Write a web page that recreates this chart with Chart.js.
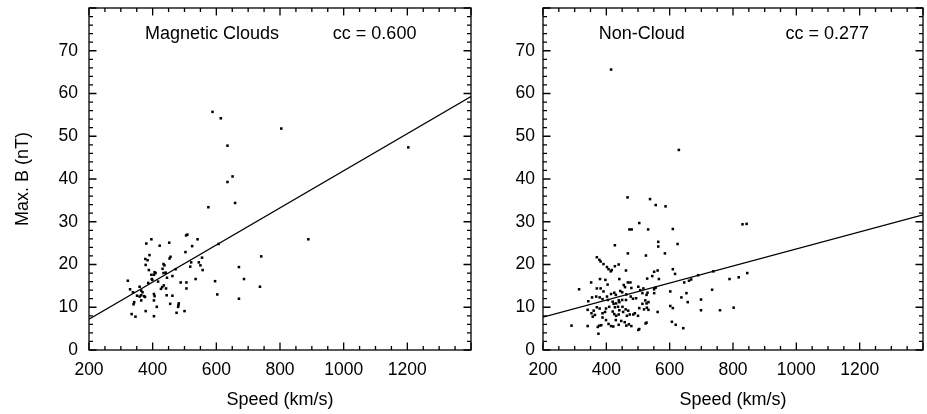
<!DOCTYPE html>
<html>
<head>
<meta charset="utf-8">
<script src="https://cdn.jsdelivr.net/npm/chart.js@4"></script>
<style>
  body { margin: 0; background: #fff; }
  #wrap { position: relative; width: 927px; height: 414px; }
  canvas { position: absolute; top: 0; }
</style>
</head>
<body>
<div id="wrap">
  <canvas id="mcChart" width="480" height="414" style="left:0"></canvas>
  <canvas id="ncChart" width="447" height="414" style="left:480px"></canvas>
</div>
<script>
// Magnetic clouds: shock speed (km/s) vs max B (nT)
const mcSpeed = [588, 614, 804, 1203, 635, 651, 635, 659, 575, 889, 607, 741, 671, 687, 737, 671, 596, 603,
  396, 380, 422, 452, 505, 509, 541, 524, 503, 390, 377, 384, 378, 456, 453, 521, 518, 555, 545, 550, 557,
  434, 437, 431, 388, 396, 406, 409, 404, 434, 441, 472, 462, 445, 322, 397, 399, 386, 417, 430, 435, 442,
  488, 506, 535, 329, 338, 359, 364, 368, 351, 359, 364, 373, 376, 404, 406, 426, 444, 462, 506, 342, 340,
  364, 404, 413, 455, 482, 481, 480, 500, 475, 378, 334, 346, 404];
const mcMaxB = [55.7, 54.2, 51.8, 47.4, 47.8, 40.6, 39.3, 34.4, 33.4, 25.9, 24.8, 21.9, 19.4, 16.6, 14.8, 12.0, 16.1, 13.0,
  25.9, 24.9, 24.4, 25.1, 26.8, 27.0, 25.9, 24.3, 22.9, 22.2, 21.3, 21.0, 19.9, 21.8, 21.4, 20.5, 19.5, 21.6, 20.5, 19.8, 18.7,
  20.1, 19.8, 19.0, 18.7, 17.6, 18.2, 18.0, 17.6, 18.0, 18.1, 18.9, 17.3, 16.9, 16.2, 16.6, 16.4, 15.7, 16.0, 14.7, 15.1, 14.4,
  15.8, 15.8, 16.6, 14.2, 13.5, 14.8, 13.9, 13.5, 12.7, 12.5, 12.8, 12.6, 12.4, 13.1, 12.6, 14.3, 12.8, 12.7, 14.4, 11.2, 10.7,
  11.6, 11.6, 10.1, 10.8, 10.9, 10.5, 10.1, 9.1, 8.7, 9.1, 8.4, 7.8, 7.9];

// Non-cloud events
const ncSpeed = [415, 629, 467, 538, 556, 587, 504, 473, 480, 532, 610, 830, 843, 427, 564, 564, 625, 468, 525, 585,
  690, 734, 699, 699, 759, 802, 789, 818, 845, 738, 668, 661, 646, 637, 653, 657, 643, 619, 607, 610, 602, 602, 610, 617,
  370, 378, 382, 391, 402, 407, 417, 414, 427, 439, 462, 352, 314, 380, 397, 404, 382, 370, 391, 368, 355, 343, 379, 388,
  402, 405, 415, 441, 455, 459, 468, 476, 479, 450, 444, 425, 430, 439, 420, 423, 431, 441, 450, 462, 463, 477, 484, 494,
  501, 507, 517, 514, 530, 527, 551, 556, 533, 527, 523, 514, 504, 519, 528, 533, 500, 485, 490, 461, 469, 474, 465, 451,
  453, 437, 441, 427, 420, 425, 431, 439, 409, 399, 396, 388, 379, 370, 360, 353, 364, 357, 341, 341, 290, 373, 378, 384,
  388, 399, 407, 415, 422, 430, 439, 447, 458, 463, 471, 479, 501, 504, 524, 527, 375, 562, 529, 551, 562, 545, 566, 551];
const ncMaxB = [65.6, 46.8, 35.7, 35.3, 33.9, 33.6, 29.7, 28.2, 28.2, 28.2, 28.3, 29.4, 29.5, 24.5, 25.3, 24.2, 24.8, 22.6, 22.1, 22.6,
  17.5, 14.1, 11.8, 9.3, 9.3, 9.9, 16.6, 17.0, 18.0, 18.4, 16.5, 16.2, 15.8, 12.3, 13.3, 11.2, 5.1, 5.9, 6.6, 9.8, 10.3, 13.7, 18.9, 17.8,
  21.7, 21.1, 20.7, 20.1, 19.4, 18.9, 18.7, 18.4, 19.6, 20.0, 18.6, 15.8, 14.2, 16.6, 16.4, 15.3, 14.4, 14.4, 13.7, 12.5, 12.3, 11.4, 12.3, 11.9,
  12.5, 11.7, 13.1, 16.6, 15.2, 14.7, 15.8, 15.8, 14.5, 13.5, 13.8, 13.4, 12.9, 11.6, 11.3, 10.8, 10.9, 11.2, 11.7, 11.7, 13.0, 12.5, 12.0, 12.1,
  14.8, 14.0, 14.4, 13.3, 13.4, 12.9, 14.2, 14.6, 11.2, 10.9, 11.6, 10.8, 9.8, 9.5, 9.9, 9.4, 8.0, 8.3, 8.6, 9.5, 9.2, 8.3, 8.0, 10.1,
  8.9, 10.1, 9.3, 10.0, 9.0, 8.4, 8.0, 8.3, 10.1, 9.7, 8.9, 8.6, 9.7, 10.0, 9.2, 8.6, 8.2, 7.8, 9.4, 5.6, 5.7, 5.4, 5.7, 5.8,
  7.6, 7.0, 6.1, 5.6, 5.5, 7.0, 5.9, 6.8, 6.5, 5.7, 6.0, 5.6, 4.7, 4.9, 6.2, 6.4, 3.8, 8.9, 16.7, 18.3, 18.6, 17.3, 16.6, 13.3];

// regression lines, read at the ends of the speed axis
const fitSpeed = [200, 1400];
const mcFitB = [7.2, 59.3];
const ncFitB = [7.7, 31.6];

const speedTicks = [200, 400, 600, 800, 1000, 1200];
const bTicks = [0, 10, 20, 30, 40, 50, 60, 70];

Chart.defaults.font.family = '"Liberation Sans", Arial, Helvetica, sans-serif';
Chart.defaults.color = '#000';
Chart.defaults.animation = false;

// IDL style frame: closed box with inward major/minor ticks on every side, plus panel labels
const idlFrame = {
    id: 'idlFrame',
    afterDraw(chart, args, opts) {
        const ctx = chart.ctx;
        const a = chart.chartArea;
        const x = chart.scales.x, y = chart.scales.y;
        ctx.save();
        ctx.strokeStyle = '#000';
        ctx.lineWidth = 1.3;
        ctx.strokeRect(a.left, a.top, a.right - a.left, a.bottom - a.top);
        ctx.beginPath();
        for (let v = x.min; v <= x.max; v += 50) {
            const px = x.getPixelForValue(v);
            const len = v % 200 === 0 ? 7.5 : 4;
            ctx.moveTo(px, a.bottom); ctx.lineTo(px, a.bottom - len);
            ctx.moveTo(px, a.top); ctx.lineTo(px, a.top + len);
        }
        for (let v = y.min; v <= y.max; v += 2) {
            const py = y.getPixelForValue(v);
            const len = v % 10 === 0 ? 7.5 : 4;
            ctx.moveTo(a.left, py); ctx.lineTo(a.left + len, py);
            ctx.moveTo(a.right, py); ctx.lineTo(a.right - len, py);
        }
        ctx.stroke();

        ctx.fillStyle = '#000';
        ctx.font = '18px "Liberation Sans", Arial, sans-serif';
        ctx.textBaseline = 'alphabetic';
        ctx.textAlign = 'left';
        const ty = y.getPixelForValue(72.8);
        ctx.fillText(opts.label, x.getPixelForValue(376), ty);
        ctx.fillText(opts.cc, x.getPixelForValue(966), ty);
        ctx.restore();
    }
};

function makePanel(canvasId, speeds, fields, fitB, label, cc, opts) {
    const ctx = document.getElementById(canvasId).getContext('2d');
    const points = speeds.map((s, i) => ({x: s, y: fields[i]}));
    const fit = fitSpeed.map((s, i) => ({x: s, y: fitB[i]}));

    return new Chart(ctx, {
        type: 'scatter',
        data: {
            datasets: [{
                data: points,
                pointStyle: 'rect',
                pointRadius: 1.8,
                pointBorderWidth: 0,
                backgroundColor: '#000',
                borderColor: '#000'
            }, {
                data: fit,
                showLine: true,
                pointRadius: 0,
                borderColor: '#000',
                borderWidth: 1.3
            }]
        },
        options: {
            responsive: false,
            layout: { padding: { top: 8, right: opts.padRight, bottom: 0, left: 0 } },
            plugins: {
                legend: { display: false },
                tooltip: { enabled: false },
                idlFrame: { label: label, cc: cc }
            },
            scales: {
                x: {
                    type: 'linear',
                    min: 200,
                    max: 1400,
                    afterBuildTicks: s => { s.ticks = speedTicks.map(v => ({value: v})); },
                    afterFit: s => { s.height = 64; s.paddingLeft = 0; s.paddingRight = 0; },
                    grid: { display: false, drawTicks: false },
                    border: { display: false },
                    ticks: { font: { size: 17.5 }, padding: 10, maxRotation: 0, callback: v => String(v) },
                    title: {
                        display: true,
                        text: 'Speed (km/s)',
                        font: { size: 18 },
                        padding: { top: 0, bottom: 3 }
                    }
                },
                y: {
                    min: 0,
                    max: 80,
                    afterBuildTicks: s => { s.ticks = bTicks.map(v => ({value: v})); },
                    afterFit: s => { s.width = opts.yWidth; s.paddingTop = 0; s.paddingBottom = 0; },
                    grid: { display: false, drawTicks: false },
                    border: { display: false },
                    ticks: { font: { size: 17.5 }, padding: opts.yPad, callback: v => String(v) },
                    title: {
                        display: opts.yTitle,
                        text: 'Max. B (nT)',
                        font: { size: 18 },
                        padding: { top: 12, bottom: 0 }
                    }
                }
            }
        },
        plugins: [idlFrame]
    });
}

makePanel('mcChart', mcSpeed, mcMaxB, mcFitB, 'Magnetic Clouds', 'cc = 0.600',
    { padRight: 9, yWidth: 89, yPad: 11, yTitle: true });
makePanel('ncChart', ncSpeed, ncMaxB, ncFitB, 'Non-Cloud', 'cc = 0.277',
    { padRight: 4, yWidth: 63, yPad: 8, yTitle: false });
</script>
</body>
</html>
